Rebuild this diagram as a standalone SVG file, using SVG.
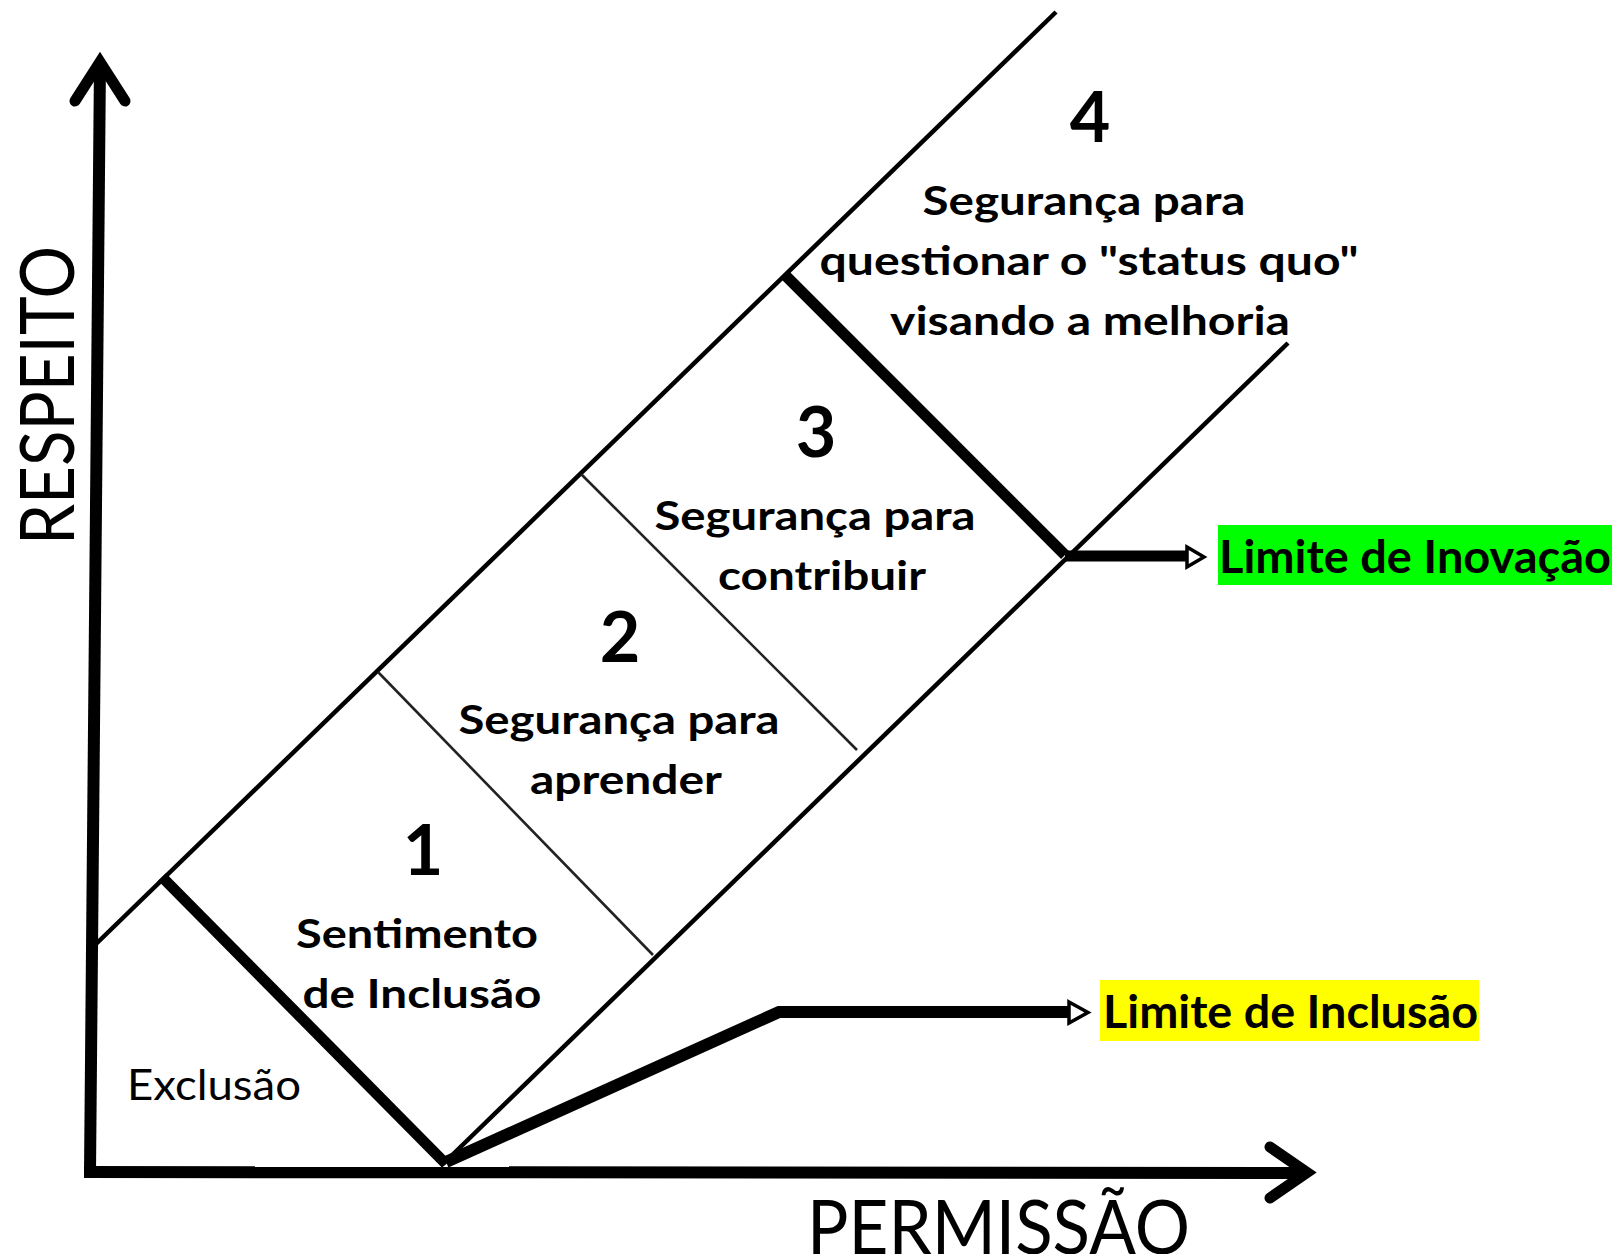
<svg xmlns="http://www.w3.org/2000/svg" width="1616" height="1254" viewBox="0 0 1616 1254">
<style>
.bg{fill:#ffffff}
.ax{stroke:#000;stroke-width:12;fill:none;stroke-linecap:butt}
.head{stroke:#000;stroke-width:11;fill:none;stroke-linejoin:miter;stroke-miterlimit:10;stroke-linecap:round}
.diag{stroke:#000;stroke-width:4.5;fill:none}
.div{stroke:#222;stroke-width:2.6;fill:none}
.thick{stroke:#000;stroke-width:11;fill:none;stroke-linecap:butt;stroke-linejoin:miter}
.tip{fill:#fff;stroke:#000;stroke-width:3.5;stroke-linejoin:miter}
.num{font-family:Lato,"Liberation Sans",sans-serif;font-weight:bold;font-size:70px;fill:#000;text-anchor:middle}
.lbl{font-family:Lato,"Liberation Sans",sans-serif;font-weight:bold;font-size:41px;fill:#000;text-anchor:middle}
.reg{font-family:Lato,"Liberation Sans",sans-serif;font-size:42px;fill:#000}
.lim{font-family:Lato,"Liberation Sans",sans-serif;font-weight:bold;font-size:46px;fill:#000}
.axl{font-family:Lato,"Liberation Sans",sans-serif;font-size:75px;fill:#000}
</style>
<rect class="bg" x="0" y="0" width="1616" height="1254"/>

<g id="axes">
  <line class="ax" x1="90" y1="1172" x2="100" y2="62"/>
  <polyline class="head" points="75,101 100,62 125,101"/>
  <line class="ax" x1="84" y1="1172" x2="1306" y2="1173"/>
  <polyline class="head" points="1270,1147 1307,1172.5 1270,1198"/>
  <text class="axl" transform="translate(74,545) rotate(-90)" x="0" y="0" textLength="299" lengthAdjust="spacingAndGlyphs">RESPEITO</text>
  <text class="axl" x="807" y="1254" textLength="383" lengthAdjust="spacingAndGlyphs">PERMISSÃO</text>
</g>

<g id="connectors">
  <line class="diag" x1="96" y1="944" x2="1056" y2="12"/>
  <line class="diag" x1="443" y1="1164" x2="1288" y2="343"/>
  <line class="thick" x1="162" y1="877" x2="446" y2="1164"/>
  <line class="div" x1="378" y1="672" x2="653" y2="955"/>
  <line class="div" x1="581" y1="474" x2="857" y2="750"/>
  <line class="thick" x1="786" y1="276" x2="1065" y2="555"/>
  <line class="thick" x1="1065" y1="556" x2="1188" y2="556"/>
  <polygon class="tip" points="1187,547 1204,557 1187,567"/>
  <polyline class="thick" points="446,1162 779,1012 1070,1012" style="stroke-width:12"/>
  <polygon class="tip" points="1069,1002 1088,1012.5 1069,1023"/>
</g>

<g id="exclusao">
  <text class="reg" x="127" y="1100" textLength="174" lengthAdjust="spacingAndGlyphs">Exclusão</text>
</g>

<g id="region1">
  <text class="num" x="423" y="875">1</text>
  <text class="lbl" x="417" y="948" textLength="242" lengthAdjust="spacingAndGlyphs">Sentimento</text>
  <text class="lbl" x="422" y="1008" textLength="239" lengthAdjust="spacingAndGlyphs">de Inclusão</text>
</g>

<g id="region2">
  <text class="num" x="620" y="662">2</text>
  <text class="lbl" x="619" y="734" textLength="321" lengthAdjust="spacingAndGlyphs">Segurança para</text>
  <text class="lbl" x="626" y="794" textLength="192" lengthAdjust="spacingAndGlyphs">aprender</text>
</g>

<g id="region3">
  <text class="num" x="816" y="457">3</text>
  <text class="lbl" x="815" y="530" textLength="321" lengthAdjust="spacingAndGlyphs">Segurança para</text>
  <text class="lbl" x="822" y="590" textLength="208" lengthAdjust="spacingAndGlyphs">contribuir</text>
</g>

<g id="region4">
  <text class="num" x="1090" y="142">4</text>
  <text class="lbl" x="1084" y="215" textLength="323" lengthAdjust="spacingAndGlyphs">Segurança para</text>
  <text class="lbl" x="1089" y="275" textLength="539" lengthAdjust="spacingAndGlyphs">questionar o "status quo"</text>
  <text class="lbl" x="1090" y="335" textLength="400" lengthAdjust="spacingAndGlyphs">visando a melhoria</text>
</g>

<g id="limite-inovacao">
  <rect x="1218" y="525" width="394" height="60" fill="#00ff00"/>
  <text class="lim" x="1219" y="573" textLength="392" lengthAdjust="spacingAndGlyphs">Limite de Inovação</text>
</g>

<g id="limite-inclusao">
  <rect x="1100" y="980" width="379" height="61" fill="#ffff00"/>
  <text class="lim" x="1103" y="1028" textLength="375" lengthAdjust="spacingAndGlyphs">Limite de Inclusão</text>
</g>
</svg>
